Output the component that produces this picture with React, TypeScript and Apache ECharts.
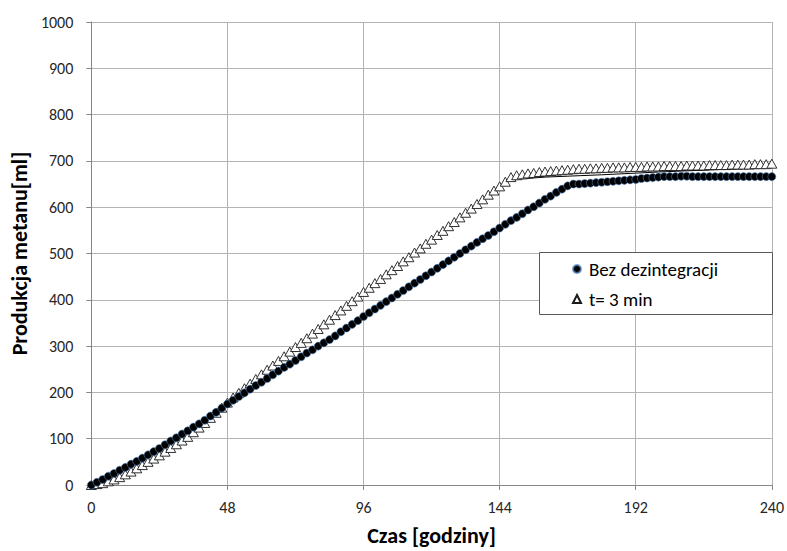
import React, { useEffect, useRef } from "react";
import * as echarts from "echarts";

const HOURS = [
  0, 2, 4, 6, 8, 10, 12, 14, 16, 18,
  20, 22, 24, 26, 28, 30, 32, 34, 36, 38,
  40, 42, 44, 46, 48, 50, 52, 54, 56, 58,
  60, 62, 64, 66, 68, 70, 72, 74, 76, 78,
  80, 82, 84, 86, 88, 90, 92, 94, 96, 98,
  100, 102, 104, 106, 108, 110, 112, 114, 116, 118,
  120, 122, 124, 126, 128, 130, 132, 134, 136, 138,
  140, 142, 144, 146, 148, 150, 152, 154, 156, 158,
  160, 162, 164, 166, 168, 170, 172, 174, 176, 178,
  180, 182, 184, 186, 188, 190, 192, 194, 196, 198,
  200, 202, 204, 206, 208, 210, 212, 214, 216, 218,
  220, 222, 224, 226, 228, 230, 232, 234, 236, 238,
  240,
];

const BEZ_DEZINTEGRACJI = [
  0, 6, 12, 19, 25, 32, 38, 45, 51, 58,
  65, 72, 79, 87, 95, 102, 110, 117, 125, 132,
  140, 149, 157, 166, 175, 183, 191, 199, 207, 215,
  222, 230, 238, 246, 254, 261, 269, 277, 285, 292,
  300, 307, 314, 322, 331, 339, 347, 355, 364, 372,
  380, 388, 396, 404, 412, 420, 428, 436, 444, 452,
  460, 468, 476, 484, 492, 500, 508, 516, 524, 532,
  539, 547, 555, 563, 571, 578, 586, 594, 601, 609,
  617, 624, 632, 639, 646, 650, 650, 651, 652, 653,
  654, 655, 656, 657, 658, 659, 660, 662, 663, 664,
  665, 666, 666, 666, 667, 667, 666, 666, 666, 666,
  666, 666, 666, 666, 666, 666, 666, 666, 666, 666,
  666,
];

const T_3_MIN = [
  0, 2, 4, 8, 12, 17, 23, 29, 36, 43,
  50, 57, 64, 72, 80, 88, 96, 104, 114, 124,
  134, 145, 156, 167, 178, 189, 199, 209, 219, 229,
  239, 249, 258, 268, 278, 288, 298, 307, 317, 327,
  337, 347, 357, 367, 377, 387, 397, 407, 417, 426,
  436, 445, 455, 464, 473, 483, 492, 502, 511, 521,
  530, 540, 549, 559, 568, 578, 588, 597, 607, 617,
  627, 636, 645, 655, 665, 669, 671, 673, 674, 676,
  677, 678, 679, 680, 681, 682, 683, 683, 684, 684,
  685, 685, 686, 686, 686, 687, 687, 687, 688, 688,
  688, 689, 689, 689, 689, 690, 690, 690, 690, 691,
  691, 691, 691, 692, 692, 692, 692, 693, 693, 693,
  694,
];

const TREND_HOURS = [147, 160, 180, 200, 220, 240];
const TREND_VALUES = [659, 665, 670, 676, 681, 686];

const SERIES_NAMES = ["Bez dezintegracji", "t= 3 min"];
const X_NAME = "Czas [godziny]";
const Y_NAME = "Produkcja metanu[ml]";

const FONT = "Carlito, Lato, 'Open Sans', sans-serif";

export default function App() {
  const ref = useRef<HTMLDivElement>(null);

  useEffect(() => {
    if (!ref.current) return;
    const chart = echarts.init(ref.current, undefined, { renderer: "svg" });

    const dots = HOURS.map((h, i) => [h, BEZ_DEZINTEGRACJI[i]]);
    const tris = HOURS.map((h, i) => [h, T_3_MIN[i]]);
    const trend = TREND_HOURS.map((h, i) => [h, TREND_VALUES[i]]);

    chart.setOption({
      animation: false,
      backgroundColor: "#ffffff",
      textStyle: { fontFamily: FONT },
      grid: { left: 91, top: 22, width: 681, height: 465, containLabel: false },
      xAxis: {
        type: "value",
        min: 0,
        max: 240,
        interval: 48,
        name: X_NAME,
        nameLocation: "middle",
        nameGap: 39,
        nameTextStyle: { fontSize: 22, fontWeight: "bold", color: "#000", fontFamily: FONT },
        axisLine: { show: true, lineStyle: { color: "#868686", width: 1 } },
        axisTick: { show: true, length: 5, lineStyle: { color: "#868686" } },
        splitLine: { show: true, lineStyle: { color: "#b3b3b3", width: 1 } },
        axisLabel: { fontSize: 16, color: "#262626", margin: 14, fontFamily: FONT },
      },
      yAxis: {
        type: "value",
        min: 0,
        max: 1000,
        interval: 100,
        name: Y_NAME,
        nameLocation: "middle",
        nameGap: 58,
        nameRotate: 90,
        nameTextStyle: { fontSize: 22, fontWeight: "bold", color: "#000", fontFamily: FONT },
        axisLine: { show: true, lineStyle: { color: "#868686", width: 1 } },
        axisTick: { show: true, length: 5, lineStyle: { color: "#868686" } },
        splitLine: { show: true, lineStyle: { color: "#b3b3b3", width: 1 } },
        axisLabel: {
          fontSize: 16,
          color: "#262626",
          margin: 18,
          fontFamily: FONT,
          formatter: (v: number) => String(v),
        },
      },
      legend: {
        data: SERIES_NAMES,
        orient: "vertical",
        left: 567,
        top: 253,
        itemGap: 8,
        itemWidth: 8,
        itemHeight: 8,
        z: 50,
        textStyle: { fontSize: 19, color: "#000", lineHeight: 22, fontFamily: FONT, padding: [0, 0, 0, 3] },
      },
      graphic: [
        {
          type: "rect",
          z: 40,
          shape: { x: 539.5, y: 252.5, width: 233, height: 62 },
          style: { fill: "#ffffff", stroke: "#595959", lineWidth: 1 },
        },
      ],
      series: [
        {
          name: SERIES_NAMES[1],
          type: "scatter",
          data: tris,
          symbol: "triangle",
          symbolSize: [10, 9],
          z: 3,
          itemStyle: { color: "#ffffff", borderColor: "#1a1a1a", borderWidth: 0.9, opacity: 1 },
        },
        {
          name: "trend",
          type: "line",
          data: trend,
          showSymbol: false,
          z: 2,
          lineStyle: { color: "#000000", width: 1 },
          silent: true,
        },
        {
          name: SERIES_NAMES[0],
          type: "scatter",
          data: dots,
          symbol: "circle",
          symbolSize: 8,
          z: 4,
          itemStyle: { color: "#000000", borderColor: "rgba(79,129,189,0.75)", borderWidth: 0.8, opacity: 1 },
        },
      ],
    });

    return () => chart.dispose();
  }, []);

  return (
    <div
      ref={ref}
      style={{ position: "fixed", left: 0, top: 0, width: 787, height: 551, background: "#fff" }}
    />
  );
}
